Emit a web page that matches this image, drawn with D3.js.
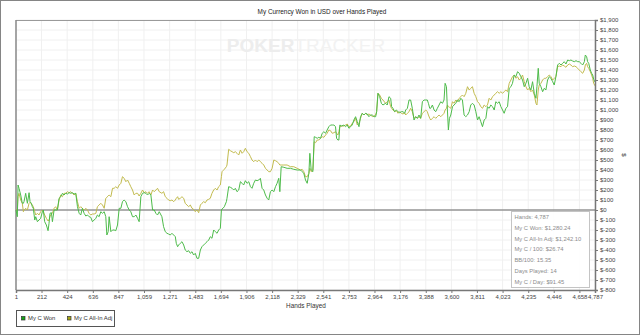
<!DOCTYPE html>
<meta charset="utf-8">
<style>
body { margin: 0; background: #fff; }
text { font-family: "Liberation Sans", Arial, sans-serif; }
</style>
<body>
<script src="https://d3js.org/d3.v7.min.js"></script>
<script>
// hands played (x) for every sampled point, shared by both series
const hands = [1, 12, 18, 26, 40, 53, 62, 67, 81, 95, 109, 117, 128, 136, 144, 156, 164, 178, 191, 205, 219, 227, 238, 252, 266, 274, 282, 294, 302, 316, 329, 343, 357, 371, 385, 398, 412, 426, 440, 454, 467, 481, 495, 509, 523, 536, 550, 564, 578, 592, 605, 619, 633, 647, 661, 674, 688, 702, 716, 730, 743, 752, 763, 771, 785, 799, 812, 826, 840, 854, 868, 881, 895, 909, 923, 937, 950, 964, 978, 992, 1006, 1019, 1033, 1047, 1061, 1075, 1088, 1102, 1116, 1130, 1144, 1157, 1171, 1185,
  1207, 1221, 1235, 1249, 1262, 1276, 1290, 1304, 1318, 1326, 1337, 1345, 1359, 1373, 1387, 1400, 1414, 1428, 1442, 1456, 1469, 1483, 1497, 1511, 1525, 1538, 1552, 1566, 1580, 1594, 1607, 1621, 1635, 1649, 1663, 1676, 1690, 1699, 1704, 1712, 1723, 1740, 1745, 1759, 1773, 1787, 1801, 1814, 1828, 1842, 1856, 1870, 1883, 1897, 1911, 1925, 1939, 1952, 1966, 1980, 1994, 2008, 2021, 2035, 2049, 2063, 2077, 2090, 2104, 2118, 2132, 2146, 2159, 2173, 2182, 2193, 2215, 2242, 2270, 2297, 2325, 2353, 2366, 2380, 2394,
  2408, 2422, 2430, 2441, 2455, 2466, 2477, 2491, 2504, 2518, 2532, 2546, 2560, 2573, 2587, 2601, 2615, 2629, 2642, 2651, 2662, 2670, 2678, 2692, 2711, 2725, 2739, 2753, 2767, 2780, 2794, 2808, 2822, 2836, 2849, 2863, 2877, 2891, 2905, 2918, 2932, 2946, 2960, 2974, 2982, 2993, 3007, 3021, 3034, 3056, 3070, 3084, 3098, 3106, 3117, 3131, 3145, 3159, 3172, 3186, 3200, 3214, 3222, 3236, 3250, 3263, 3277, 3291, 3305, 3319, 3332, 3346, 3360, 3374, 3388, 3401, 3410, 3421, 3429, 3443, 3457, 3470, 3484, 3498, 3512, 3526, 3539, 3548, 3559, 3567, 3575, 3584, 3595,
  3609, 3622, 3636, 3650, 3664, 3678, 3691, 3705, 3719, 3733, 3747, 3760, 3774, 3788, 3802, 3816, 3829, 3843, 3857, 3871, 3885, 3898, 3912, 3926, 3940, 3954, 3967, 3981, 3995, 4009, 4023, 4036, 4050, 4064, 4078, 4092, 4105, 4119, 4133, 4147, 4161, 4174, 4188, 4202, 4216, 4230, 4243, 4257, 4271, 4285, 4299, 4307, 4318, 4326, 4340, 4354, 4368, 4381, 4395, 4409, 4423, 4437, 4450, 4464, 4478, 4492, 4506, 4519, 4533, 4547, 4561, 4575, 4588, 4602, 4616, 4630, 4644, 4657, 4671, 4685, 4699, 4707, 4718, 4726, 4735, 4748, 4759, 4768, 4776, 4787];

// My C Won, USD
const myCWon = [0, -67, 250, 217, 150, 67, 67, 83, 167, 67, 173, 83, 67, 33, 17, -100, -67, -117, -100, -83, -17, 0, -117, -150, -207, -133, -33, -27, -117, 0, 0, 0, 117, 133, 167, 150, 167, 160, 173, 167, 173, 160, 167, 33, -33, -50, 17, -33, -60, -50, -67, -73, -117, -100, -83, -50, -67, -17, -33, -17, -67, -250, -217, -67, -217, -200, -200, -207, -150, 17, 17, 83, 100, 83, 33, 0, -17, -67, -67, -50, -83, -117, 133, 167, 173, 167, 150, 167, 150, 0, 0, -33, -50, -17,
  -67, -167, -217, -233, -240, -250, -233, -250, -267, -333, -367, -350, -333, -317, -350, -400, -417, -407, -433, -417, -450, -433, -483, -483, -400, -367, -350, -333, -317, -300, -267, -283, -200, -217, -233, -200, -183, 0, 10, 17, 33, 83, 117, 233, 227, 217, 200, 217, 183, 200, 283, 267, 250, 293, 267, 283, 233, 217, 267, 300, 293, 300, 317, 217, 200, 150, 117, 100, 183, 200, 183, 233, 267, 317, 183, 433, 427, 417, 417, 407, 400, 400, 383, 367, 300,
  267, 367, 567, 400, 383, 733, 727, 717, 727, 717, 767, 783, 767, 800, 833, 850, 850, 850, 833, 717, 700, 700, 850, 840, 850, 833, 850, 817, 833, 850, 900, 933, 883, 833, 933, 967, 950, 967, 960, 933, 950, 950, 933, 933, 983, 1167, 1133, 1067, 1050, 1067, 1050, 1133, 1117, 1033, 1017, 983, 1000, 983, 973, 983, 983, 967, 1000, 1017, 1100, 1100, 1017, 900, 933, 917, 950, 917, 1083, 1100, 1100, 1100, 1067, 1017, 1017, 1050, 1000, 983, 1017, 1050, 1083, 1067, 1100, 1267, 1233, 1000, 800, 917, 950,
  1033, 1050, 1067, 1100, 1083, 1117, 1100, 950, 933, 950, 983, 1050, 1067, 1050, 983, 900, 933, 883, 833, 900, 917, 1033, 1017, 1050, 1033, 1000, 1083, 1067, 1083, 1033, 1000, 967, 1017, 1033, 1217, 1233, 1267, 1350, 1333, 1383, 1367, 1333, 1300, 1233, 1267, 1317, 1233, 1200, 1283, 1167, 1117, 1233, 1417, 1267, 1233, 1183, 1217, 1200, 1300, 1333, 1317, 1283, 1250, 1333, 1450, 1467, 1450, 1467, 1483, 1460, 1500, 1493, 1500, 1490, 1483, 1493, 1483, 1483, 1467, 1450, 1483, 1550, 1533, 1483, 1467, 1400, 1367, 1350, 1307, 1280.24];

// My C All-In Adj, USD
const myCAllInAdj = [0, 0, 133, 167, 100, 67, -17, 0, 17, 0, 67, 77, 60, 50, 33, -17, -50, -33, -50, -17, 0, -17, -50, -83, -110, -100, -67, -40, -33, 17, 33, 0, 100, 150, 133, 167, 167, 183, 173, 183, 167, 150, 167, 83, 17, 33, 17, 0, 17, 0, -33, -50, -40, -40, -33, 33, 50, 67, 50, 17, 117, 127, 140, 150, 133, 217, 217, 233, 217, 250, 267, 333, 317, 283, 300, 267, 233, 200, 150, 167, 167, 140, 167, 200, 173, 183, 167, 183, 150, 200, 183, 200, 217, 183,
  167, 183, 133, 117, 100, 93, 100, 83, 100, 117, 133, 107, 117, 133, 117, 67, 50, 33, 50, 17, 7, -17, 0, -27, 50, 67, 83, 73, 100, 107, 117, 167, 200, 217, 200, 233, 250, 333, 383, 393, 407, 433, 450, 607, 593, 583, 573, 583, 567, 550, 600, 567, 583, 617, 583, 567, 533, 500, 483, 500, 483, 500, 483, 467, 450, 417, 400, 383, 383, 417, 500, 493, 483, 467, 450, 450, 450, 450, 433, 433, 417, 400, 407, 383, 333,
  333, 367, 417, 383, 400, 683, 673, 700, 700, 717, 733, 727, 750, 767, 800, 793, 767, 773, 783, 767, 750, 783, 833, 840, 840, 850, 860, 833, 840, 867, 883, 917, 850, 867, 917, 967, 950, 967, 950, 960, 950, 933, 940, 950, 983, 1167, 1150, 1117, 1100, 1067, 1083, 1100, 1033, 1017, 1000, 983, 993, 967, 983, 967, 960, 973, 950, 967, 983, 1017, 983, 917, 933, 917, 933, 917, 967, 983, 1000, 983, 950, 917, 900, 917, 933, 917, 933, 950, 933, 950, 967, 1000, 1017, 1050, 1033, 1027, 1017,
  1083, 1067, 1100, 1083, 1117, 1133, 1150, 1133, 1167, 1233, 1200, 1217, 1233, 1167, 1133, 1083, 1067, 1033, 1017, 1050, 1033, 1050, 1117, 1100, 1133, 1150, 1167, 1183, 1167, 1183, 1167, 1183, 1200, 1183, 1267, 1300, 1333, 1350, 1317, 1333, 1300, 1317, 1350, 1283, 1233, 1200, 1217, 1183, 1200, 1150, 1067, 1050, 1200, 1250, 1267, 1300, 1317, 1317, 1333, 1350, 1333, 1300, 1317, 1333, 1433, 1440, 1433, 1450, 1440, 1427, 1450, 1460, 1450, 1433, 1440, 1433, 1417, 1400, 1383, 1367, 1400, 1450, 1467, 1433, 1417, 1383, 1350, 1317, 1267, 1242.10];

const seriesNames = ["My C Won", "My C All-In Adj"];
const xTickValues = [1, 212, 424, 636, 847, 1059, 1271, 1483, 1694, 1906, 2118, 2329, 2541, 2753, 2964, 3176, 3388, 3600, 3811, 4023, 4235, 4446, 4658, 4787];
const yTickValues = [-800, -700, -600, -500, -400, -300, -200, -100, 0, 100, 200, 300, 400, 500, 600, 700, 800, 900, 1000, 1100, 1200, 1300, 1400, 1500, 1600, 1700, 1800, 1900];
const statsLines = ["Hands: 4,787", "My C Won: $1,280.24", "My C All-In Adj: $1,242.10", "My C / 100: $26.74", "BB/100: 15.35", "Days Played: 14", "My C / Day: $91.45"];

const W = 640, H = 335;
const plot = {left: 16, right: 595, top: 20, bottom: 290};
const greenCol = "#4dbb4a", oliveCol = "#c2bb4e";

const svg = d3.select("body").append("svg")
    .attr("width", W)
    .attr("height", H);

// outer frame
svg.append("rect")
    .attr("x", 0.5).attr("y", 0.5)
    .attr("width", W - 1).attr("height", H - 1)
    .attr("fill", "#fff")
    .attr("stroke", "#858585");

var x = d3.scaleLinear().domain([1, 4787]).range([plot.left, plot.right]);
var y = d3.scaleLinear().domain([-800, 1900]).range([plot.bottom, plot.top]);

// title
svg.append("text")
    .attr("x", 322).attr("y", 14)
    .attr("text-anchor", "middle")
    .attr("font-size", 6.4)
    .attr("fill", "#222")
    .text("My Currency Won in USD over Hands Played");

// grid
svg.append("g").selectAll("line").data(xTickValues).join("line")
    .attr("x1", d => x(d)).attr("x2", d => x(d))
    .attr("y1", plot.top).attr("y2", plot.bottom)
    .attr("stroke", "#f0f0f0");
svg.append("g").selectAll("line").data(yTickValues).join("line")
    .attr("x1", plot.left).attr("x2", plot.right)
    .attr("y1", d => y(d)).attr("y2", d => y(d))
    .attr("stroke", "#f0f0f0");

// watermark
var wm = svg.append("text")
    .attr("x", 306).attr("y", 52)
    .attr("text-anchor", "middle")
    .attr("font-size", 19)
    .attr("font-family", "'DejaVu Sans', sans-serif");
wm.append("tspan").attr("font-weight", "bold").attr("fill", "#ededed").text("POKER");
wm.append("tspan").attr("fill", "#f2f2f2").text("TRACKER");

// top and left border
svg.append("line")
    .attr("x1", plot.left).attr("x2", plot.right)
    .attr("y1", plot.top + 0.5).attr("y2", plot.top + 0.5)
    .attr("stroke", "#9a9a9a");
svg.append("line")
    .attr("x1", plot.left).attr("x2", plot.left)
    .attr("y1", plot.top).attr("y2", plot.bottom)
    .attr("stroke", "#8a8a8a").attr("stroke-width", 1.5);

// zero line
svg.append("line")
    .attr("x1", plot.left).attr("x2", plot.right)
    .attr("y1", y(0)).attr("y2", y(0))
    .attr("stroke", "#666").attr("stroke-width", 1);

// series
var idx = d3.range(hands.length);
var lineFor = vals => d3.line()
    .x(i => x(hands[i]))
    .y(i => y(vals[i]))(idx);

svg.append("path")
    .attr("d", lineFor(myCAllInAdj))
    .attr("fill", "none")
    .attr("stroke", oliveCol)
    .attr("stroke-width", 1);
svg.append("path")
    .attr("d", lineFor(myCWon))
    .attr("fill", "none")
    .attr("stroke", greenCol)
    .attr("stroke-width", 1);

// axes
var fmtMoney = d => "$" + (d < 0 ? "-" : "") + d3.format(",")(Math.abs(d));

var yAxis = svg.append("g")
    .attr("transform", "translate(" + plot.right + ",0)")
    .call(d3.axisRight(y).tickValues(yTickValues).tickSize(3).tickPadding(2).tickFormat(fmtMoney));
var xAxis = svg.append("g")
    .attr("transform", "translate(0," + plot.bottom + ")")
    .call(d3.axisBottom(x).tickValues(xTickValues).tickSize(3).tickPadding(2).tickFormat(d3.format(",")));

[xAxis, yAxis].forEach(function(a) {
  a.select(".domain").attr("stroke", "#777").attr("stroke-width", 1.5);
  a.selectAll(".tick line").attr("stroke", "#777");
  a.selectAll("text")
    .attr("font-size", 6)
    .attr("fill", "#444")
    .attr("font-family", "'Liberation Sans', Arial, sans-serif");
});

svg.append("text")
    .attr("x", 306).attr("y", 308)
    .attr("text-anchor", "middle")
    .attr("font-size", 6.4)
    .attr("fill", "#333")
    .text("Hands Played");

svg.append("text")
    .attr("transform", "translate(622,155) rotate(90)")
    .attr("text-anchor", "middle")
    .attr("font-size", 6)
    .attr("fill", "#333")
    .text("$");

// stats box
var box = svg.append("g");
box.append("rect")
    .attr("x", 511.5).attr("y", 211.5)
    .attr("width", 78).attr("height", 76)
    .attr("fill", "#fff").attr("fill-opacity", 0.9)
    .attr("stroke", "#c4c4c4");
box.selectAll("text").data(statsLines).join("text")
    .attr("x", 514.5)
    .attr("y", (d, i) => 219 + i * 10.8)
    .attr("font-size", 5.8)
    .attr("fill", "#8c8c8c")
    .text(d => d);

// legend
var leg = svg.append("g");
leg.append("rect")
    .attr("x", 16.5).attr("y", 310.5)
    .attr("width", 98).attr("height", 16)
    .attr("fill", "#fff")
    .attr("stroke", "#555");
var legX = [21, 67];
var legCol = ["#16a316", "#a8a814"];
seriesNames.forEach(function(name, i) {
  leg.append("rect")
    .attr("x", legX[i] + 0.5).attr("y", 316.5)
    .attr("width", 3.5).attr("height", 3.5)
    .attr("fill", legCol[i])
    .attr("stroke", "#333").attr("stroke-width", 0.7);
  leg.append("text")
    .attr("x", legX[i] + 7).attr("y", 320.3)
    .attr("font-size", 5.9)
    .attr("fill", "#333")
    .text(name);
});
</script>
</body>
